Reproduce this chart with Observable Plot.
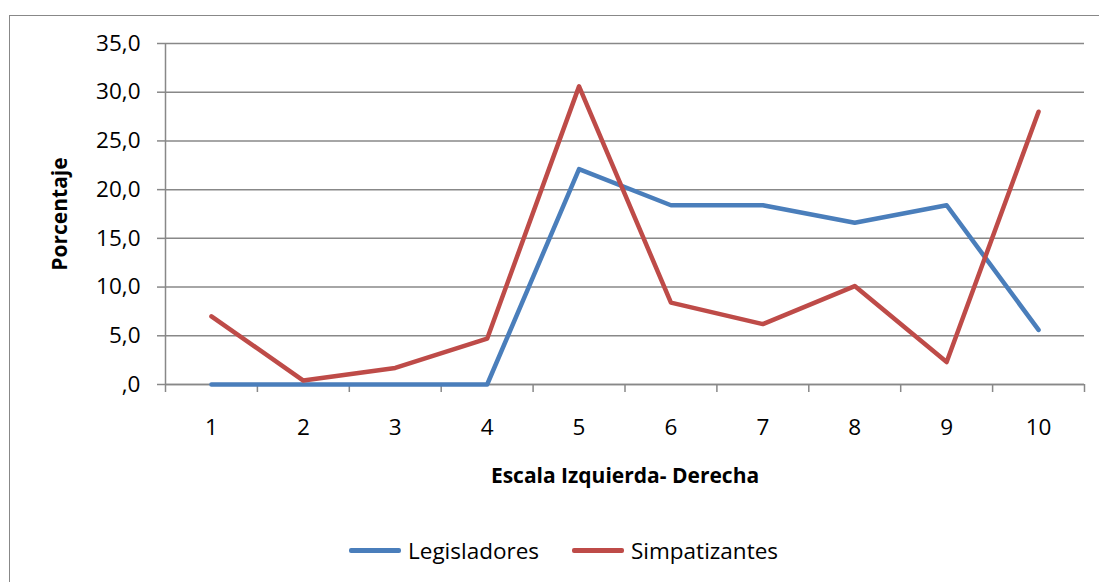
<!DOCTYPE html>
<html>
<head>
<meta charset="utf-8">
<script src="https://cdn.jsdelivr.net/npm/d3@7"></script>
<script src="https://cdn.jsdelivr.net/npm/@observablehq/plot@0.6"></script>
<style>
  html, body { margin: 0; padding: 0; background: #fff; overflow: hidden; }
  #wrap { position: relative; width: 1099px; height: 582px; font-family: "Open Sans", Lato, sans-serif; }
  #border { position: absolute; left: 9px; top: 15px; width: 1200px; height: 700px; border: 1.5px solid #888; box-sizing: border-box; }
  #chart { position: absolute; left: 0; top: 0; }
  #legend { position: absolute; left: 0; top: 535px; width: 1099px; font-size: 22.5px; color: #000; }
  .item { display: flex; align-items: center; position: absolute; top: 0; }
  .sw { width: 52px; height: 4.5px; border-radius: 2px; margin-right: 7px; }
</style>
</head>
<body>
<div id="wrap">
  <div id="border"></div>
  <div id="chart"></div>
  <div id="legend"></div>
</div>
<script>
const categories = [1, 2, 3, 4, 5, 6, 7, 8, 9, 10];
const legisladores = [0, 0, 0, 0, 22.1, 18.4, 18.4, 16.6, 18.4, 5.6];
const simpatizantes = [7.0, 0.4, 1.7, 4.7, 30.6, 8.4, 6.2, 10.1, 2.3, 28.0];
const seriesNames = ["Legisladores", "Simpatizantes"];
const seriesColors = ["#4a7ebb", "#be4b48"];
const yTicks = [0, 5, 10, 15, 20, 25, 30, 35];

const data = [
  ...categories.map((c, i) => ({cat: c, value: legisladores[i], series: seriesNames[0]})),
  ...categories.map((c, i) => ({cat: c, value: simpatizantes[i], series: seriesNames[1]}))
];
const boundaries = [categories[0] - 0.5, ...categories.map(c => c + 0.5)];
const fmt = d => d === 0 ? ",0" : d.toFixed(1).replace(".", ",");

const chart = Plot.plot({
  width: 1099,
  height: 510,
  marginLeft: 165,
  marginRight: 15,
  marginTop: 43,
  marginBottom: 126,
  style: {fontFamily: "'Open Sans', Lato, sans-serif", fontSize: "22.5px", color: "#000", background: "transparent"},
  x: {domain: [boundaries[0], boundaries[boundaries.length - 1]]},
  y: {domain: [0, 35]},
  color: {domain: seriesNames, range: seriesColors},
  marks: [
    Plot.gridY(yTicks, {stroke: "#888", strokeOpacity: 1, strokeWidth: 1.5}),
    Plot.ruleX([boundaries[0]], {stroke: "#888", strokeWidth: 1.5}),
    Plot.ruleY([0], {stroke: "#888", strokeWidth: 1.5}),
    Plot.axisY(yTicks, {tickSize: 8, tickPadding: 17, tickFormat: fmt, label: null, stroke: "#888", strokeWidth: 1.5, fill: "#000"}),
    Plot.axisX(boundaries, {tickSize: 8, tickFormat: () => "", label: null, stroke: "#888", strokeWidth: 1.5}),
    Plot.axisX(categories, {tickSize: 0, tickPadding: 35, label: null, fill: "#000"}),
    Plot.line(data, {x: "cat", y: "value", z: "series", stroke: "series", strokeWidth: 4.5, strokeLinecap: "round", strokeLinejoin: "round"}),
    Plot.text(["Porcentaje"], {frameAnchor: "left", textAnchor: "middle", rotate: -90, dx: -105, fontWeight: "bold", fontSize: 21, fill: "#000"}),
    Plot.text(["Escala Izquierda- Derecha"], {frameAnchor: "bottom", dy: 98, fontWeight: "bold", fontSize: 21, fill: "#000"})
  ]
});
document.getElementById("chart").appendChild(chart);

const legend = document.getElementById("legend");
const lefts = [349, 572];
seriesNames.forEach((name, i) => {
  const item = document.createElement("div");
  item.className = "item";
  item.style.left = lefts[i] + "px";
  const sw = document.createElement("div");
  sw.className = "sw";
  sw.style.background = seriesColors[i];
  const t = document.createElement("span");
  t.textContent = name;
  item.appendChild(sw);
  item.appendChild(t);
  legend.appendChild(item);
});
</script>
</body>
</html>
